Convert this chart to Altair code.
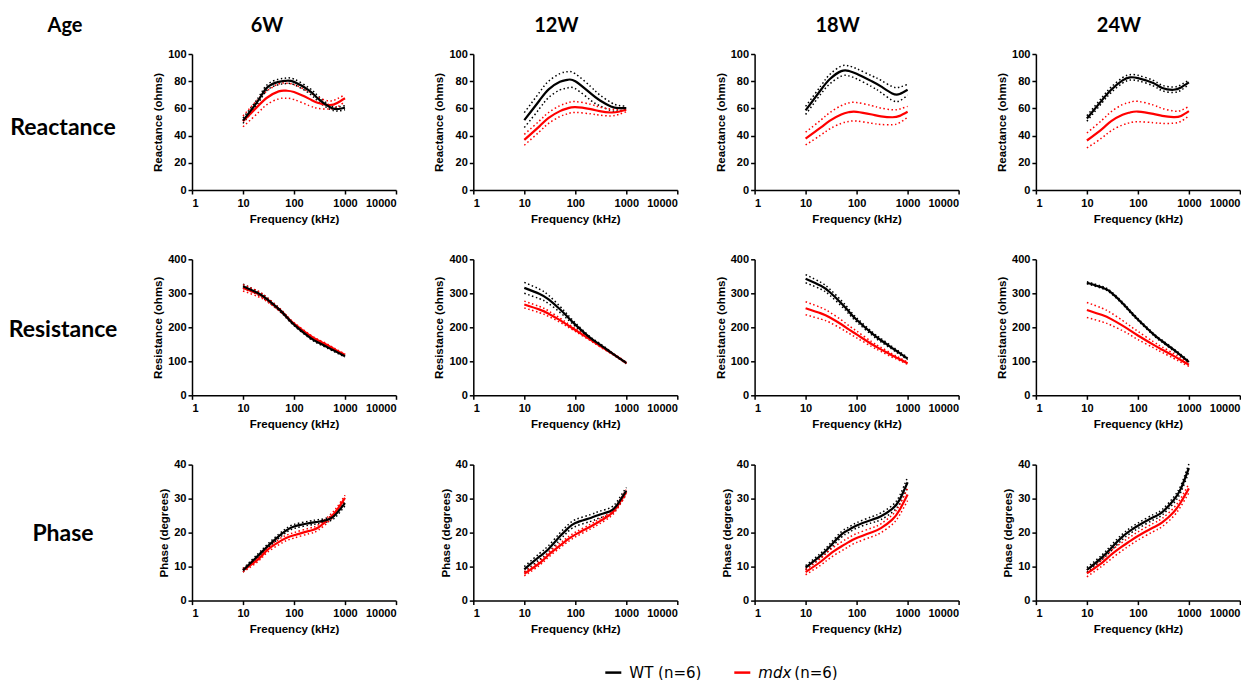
import altair as alt
import pandas as pd

FREQ = [10, 20, 30, 50, 70, 100, 200, 300, 500, 700, 1000]
AGES = ["6W", "12W", "18W", "24W"]
AGE_HEADER = "Age"
MEASURES = ["Reactance", "Resistance", "Phase"]
Y_TITLES = ["Reactance (ohms)", "Resistance (ohms)", "Phase (degrees)"]
Y_MAX = [100, 400, 40]
Y_STEP = [20, 100, 10]
SERIES = ["WT", "mdx"]
N_LABEL = "(n=6)"
X_TICKS = [1, 10, 100, 1000, 10000]
X_TITLE = "Frequency (kHz)"

# mean values, one list per age (6W, 12W, 18W, 24W)
REACTANCE_WT = [
    [51, 66, 75.5, 79.5, 80.3, 79.5, 73, 67, 61, 59.5, 60.5],
    [51.4, 66, 74, 79.6, 81, 80, 71, 66, 61.4, 60.2, 60.2],
    [58.5, 73.7, 81.6, 87.4, 87.6, 85.5, 79.9, 76.2, 71, 70.6, 73.7],
    [52.6, 66.3, 73.7, 80.6, 82.8, 82.3, 78.6, 75, 73.7, 75.4, 79.1],
]
REACTANCE_WT_ERR = [
    [2, 2, 2, 2, 2, 2, 2, 2, 1.5, 1.5, 1.5],
    [5.5, 6, 6, 6, 6, 5.5, 5, 4, 3, 2, 1.5],
    [3, 3, 3.5, 3.7, 3.7, 3.7, 4, 4.5, 5, 5, 4],
    [2, 2, 2, 2, 2, 2, 2, 2, 2, 2, 1.5],
]
REACTANCE_MDX = [
    [50.5, 62, 68, 72.5, 73, 72, 67, 64, 62.5, 64, 67.5],
    [36.9, 47, 53, 58, 60, 61, 59.5, 58, 57, 57.5, 59],
    [37.8, 46, 51, 55.5, 57.2, 57.5, 55.5, 54.2, 53.5, 54.5, 57.5],
    [36.4, 45, 50.6, 55.3, 57, 57.7, 56, 54.5, 53.6, 54.5, 58],
]
REACTANCE_MDX_ERR = [
    [4, 5, 5, 5.5, 5.5, 5.5, 5, 4, 3, 3, 2.5],
    [4, 4, 4, 4, 4, 4, 3.5, 3, 2.5, 2, 1.5],
    [4.7, 5.5, 6, 6.5, 6.8, 6.8, 6.5, 6, 5.5, 5, 4],
    [5.5, 6.5, 7, 7.5, 7.5, 7.5, 6.5, 5.5, 4.5, 4, 3.5],
]
RESISTANCE_WT = [
    [321, 300, 282, 254, 232, 208, 171, 155, 138, 127, 115],
    [316, 298, 282, 253, 231, 208, 168, 150, 126, 111, 95],
    [343, 322, 303, 271, 247, 222, 182, 162, 139, 124, 108],
    [331, 317, 302, 271, 247, 223, 180, 159, 134, 117, 98],
]
RESISTANCE_WT_ERR = [
    [6, 5, 5, 4, 4, 3, 3, 3, 3, 3, 3],
    [16, 14, 12, 9, 7, 5, 3, 3, 2, 2, 2],
    [12, 10, 9, 8, 7, 6, 5, 5, 4, 4, 3],
    [3, 3, 3, 3, 3, 3, 3, 3, 3, 3, 3],
]
RESISTANCE_MDX = [
    [316, 298, 281, 254, 233, 211, 177, 161, 144, 131, 119],
    [267, 252, 240, 221, 207, 192, 163, 146, 125, 111, 95],
    [256, 241, 229, 209, 194, 179, 150, 135, 117, 106, 94],
    [251, 236, 224, 205, 191, 176, 149, 134, 116, 103, 90],
]
RESISTANCE_MDX_ERR = [
    [9, 8, 6, 4, 3, 3, 3, 3, 3, 3, 3],
    [10, 9, 8, 6, 5, 4, 3, 3, 2, 2, 2],
    [19, 17, 15, 13, 11, 10, 7, 6, 5, 4, 3],
    [22, 20, 18, 15, 13, 12, 9, 8, 7, 6, 5],
]
PHASE_WT = [
    [8.9, 13.3, 15.9, 18.9, 20.6, 21.8, 22.8, 23.2, 24, 25.8, 28.7],
    [9.2, 13, 15.2, 18.9, 21.1, 22.8, 24.3, 25.3, 26.4, 28.7, 32.3],
    [9.7, 13.3, 15.9, 19.4, 20.8, 22.1, 23.8, 24.8, 27, 29.7, 34.8],
    [9, 12.8, 15.5, 18.8, 20.5, 22, 24.5, 26, 29.5, 33, 39],
]
PHASE_WT_ERR = [
    [0.5, 0.6, 0.6, 0.6, 0.6, 0.6, 0.6, 0.6, 0.6, 0.8, 0.8],
    [0.8, 0.9, 1, 1, 1, 1, 1, 1, 1, 1, 1],
    [0.6, 0.7, 0.8, 0.8, 0.8, 0.8, 0.9, 1, 1, 1.2, 1.5],
    [0.7, 0.7, 0.8, 0.8, 0.8, 0.8, 0.8, 0.8, 0.9, 1, 1.2],
]
PHASE_MDX = [
    [8.9, 12.2, 14.9, 17.2, 18.4, 19.2, 20.5, 21.5, 24.3, 26.7, 30.2],
    [7.9, 11, 13.5, 16.2, 17.9, 19.4, 21.8, 23.3, 25.5, 28.2, 31.9],
    [8.4, 11.5, 13.7, 15.9, 17.2, 18.4, 20.1, 21.3, 23.8, 26.7, 31.2],
    [8, 11.2, 13.5, 16, 17.5, 19, 21.5, 23, 26, 29, 33],
]
PHASE_MDX_ERR = [
    [0.5, 0.6, 0.7, 0.8, 0.8, 0.8, 0.8, 0.8, 0.8, 0.8, 0.8],
    [0.6, 0.6, 0.7, 0.7, 0.7, 0.7, 0.7, 0.7, 0.7, 0.7, 0.7],
    [0.8, 1, 1.2, 1.3, 1.3, 1.3, 1.3, 1.3, 1.4, 1.5, 1.8],
    [1, 1, 1.2, 1.2, 1.2, 1.2, 1.2, 1.2, 1.2, 1.2, 1.3],
]

DATA = [
    (REACTANCE_WT, REACTANCE_WT_ERR, REACTANCE_MDX, REACTANCE_MDX_ERR),
    (RESISTANCE_WT, RESISTANCE_WT_ERR, RESISTANCE_MDX, RESISTANCE_MDX_ERR),
    (PHASE_WT, PHASE_WT_ERR, PHASE_MDX, PHASE_MDX_ERR),
]

COLORS = ["#000000", "#ff0000"]
W, H = 204, 136
HEAD_FONT = "Lato"
AX_FONT = "Liberation Sans"
LEG_FONT = "DejaVu Sans"
LABEL_Y = [74, 71, 69]
INTERP = "natural"


def panel(r, c):
    wt, wt_e, md, md_e = DATA[r]
    recs = []
    for s, means, errs in ((SERIES[0], wt, wt_e), (SERIES[1], md, md_e)):
        for f, m, e in zip(FREQ, means[c], errs[c]):
            recs.append({"freq": f, "series": s, "mean": m, "lo": m - e, "hi": m + e})
    df = pd.DataFrame(recs)

    x = alt.X(
        "freq:Q",
        scale=alt.Scale(type="log", domain=[1, 10000], nice=False),
        axis=alt.Axis(values=X_TICKS, format="d", title=X_TITLE),
    )
    yaxis = alt.Axis(values=list(range(0, Y_MAX[r] + 1, Y_STEP[r])), title=Y_TITLES[r])
    yscale = alt.Scale(domain=[0, Y_MAX[r]], nice=False)
    color = alt.Color("series:N", scale=alt.Scale(domain=SERIES, range=COLORS), legend=None)

    base = alt.Chart(df)
    bounds = (
        base.transform_fold(["lo", "hi"], as_=["bound", "value"])
        .mark_line(strokeDash=[1.5, 2.5], strokeWidth=1.5, interpolate=INTERP)
        .encode(x=x, y=alt.Y("value:Q", scale=yscale, axis=yaxis), color=color,
                detail=["series:N", "bound:N"])
    )
    mean_md = (
        base.transform_filter(alt.datum.series == SERIES[1])
        .mark_line(strokeWidth=2.2, interpolate=INTERP)
        .encode(x=x, y=alt.Y("mean:Q", scale=yscale, axis=yaxis), color=color)
    )
    mean_wt = (
        base.transform_filter(alt.datum.series == SERIES[0])
        .mark_line(strokeWidth=2.2, interpolate=INTERP)
        .encode(x=x, y=alt.Y("mean:Q", scale=yscale, axis=yaxis), color=color)
    )
    layers = [bounds, mean_md, mean_wt]

    if c == 0:
        layers.append(
            alt.Chart(pd.DataFrame({"t": [MEASURES[r]]}))
            .mark_text(font=HEAD_FONT, fontSize=23, fontWeight="bold", align="center",
                       baseline="middle", color="black")
            .encode(text="t:N", x=alt.value(-129), y=alt.value(LABEL_Y[r]))
        )
    if r == 0:
        layers.append(
            alt.Chart(pd.DataFrame({"t": [AGES[c]]}))
            .mark_text(font=HEAD_FONT, fontSize=20, fontWeight="bold", align="center",
                       baseline="middle", color="black")
            .encode(text="t:N", x=alt.value(75 if c == 0 else 83), y=alt.value(-28))
        )
        if c == 0:
            layers.append(
                alt.Chart(pd.DataFrame({"t": [AGE_HEADER]}))
                .mark_text(font=HEAD_FONT, fontSize=20, fontWeight="bold", align="center",
                           baseline="middle", color="black")
                .encode(text="t:N", x=alt.value(-127), y=alt.value(-28))
            )
    if r == 2 and c == 1:
        ly = 208
        layers.append(
            alt.Chart(pd.DataFrame({"s": [SERIES[0]]}))
            .mark_rule(strokeWidth=2.5, color=COLORS[0])
            .encode(x=alt.value(132), x2=alt.value(148), y=alt.value(ly))
        )
        layers.append(
            alt.Chart(pd.DataFrame({"s": [SERIES[1]]}))
            .mark_rule(strokeWidth=2.5, color=COLORS[1])
            .encode(x=alt.value(261), x2=alt.value(277), y=alt.value(ly))
        )
        layers.append(
            alt.Chart(pd.DataFrame({"t": [SERIES[0] + " " + N_LABEL]}))
            .mark_text(font=LEG_FONT, fontSize=15, align="left", baseline="middle", color="black")
            .encode(text="t:N", x=alt.value(156), y=alt.value(ly))
        )
        layers.append(
            alt.Chart(pd.DataFrame({"t": [SERIES[1]]}))
            .mark_text(font=LEG_FONT, fontSize=15, fontStyle="italic", align="left",
                       baseline="middle", color="black")
            .encode(text="t:N", x=alt.value(285), y=alt.value(ly))
        )
        layers.append(
            alt.Chart(pd.DataFrame({"t": [N_LABEL]}))
            .mark_text(font=LEG_FONT, fontSize=15, align="left", baseline="middle", color="black")
            .encode(text="t:N", x=alt.value(321), y=alt.value(ly))
        )

    return alt.layer(*layers).properties(width=W, height=H)


panels = [panel(r, c) for r in range(3) for c in range(4)]

chart = (
    alt.concat(*panels, columns=4, spacing={"row": 69.3, "column": 77.3}, bounds="flush")
    .properties(padding={"left": 0, "top": 8, "right": 0, "bottom": 0}, background="white")
    .configure_view(stroke=None)
    .configure_axis(
        grid=False,
        domainColor="black",
        domainWidth=1.5,
        tickColor="black",
        tickWidth=1.5,
        tickSize=4,
        labelFont=AX_FONT,
        labelFontWeight="bold",
        labelFontSize=11,
        labelColor="black",
        labelPadding=2,
        titleFont=AX_FONT,
        titleFontWeight="bold",
        titleFontSize=11.5,
        titleColor="black",
    )
    .configure_axisX(labelPadding=3, titlePadding=5)
)

chart.save("out.html", embed_options={"renderer": "svg", "actions": False})
